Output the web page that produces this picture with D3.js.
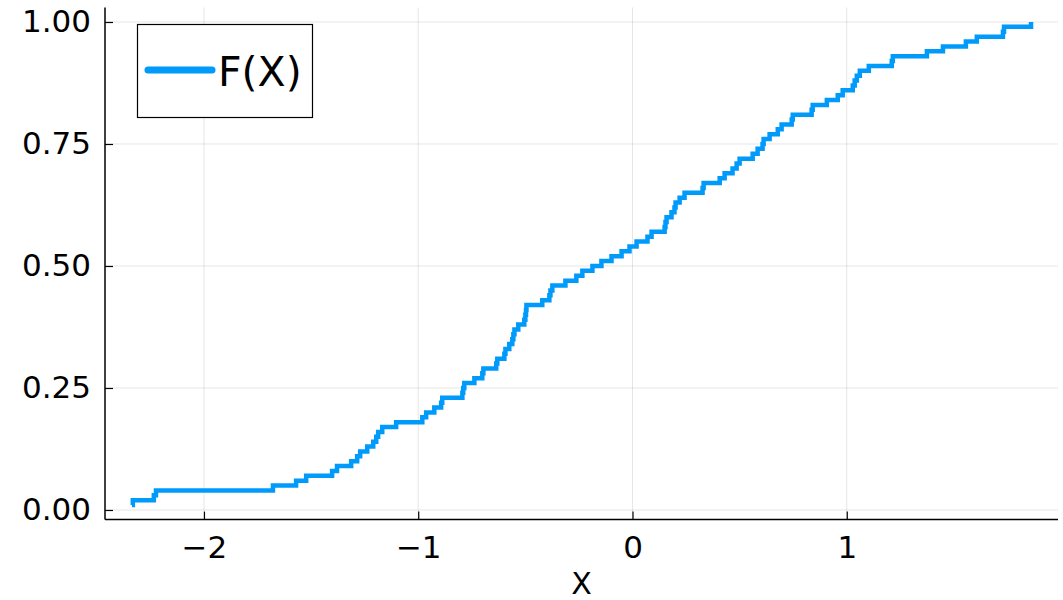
<!DOCTYPE html>
<html>
<head>
<meta charset="utf-8">
<script src="https://cdn.jsdelivr.net/npm/d3@7"></script>
<style>
  html, body { margin: 0; padding: 0; background: #fff; }
  svg { display: block; font-family: "DejaVu Sans", sans-serif; }
</style>
</head>
<body>
<svg id="chart" width="1063" height="600"></svg>
<script>
// Sorted sample values; the empirical CDF steps up by 1/n at each one.
const samples = [
  -2.336, -2.332, -2.234, -2.224, -1.678, -1.570, -1.523, -1.402, -1.379, -1.313,
  -1.285, -1.271, -1.238, -1.210, -1.196, -1.187, -1.168, -1.103, -0.981, -0.963,
  -0.925, -0.893, -0.888, -0.794, -0.790, -0.785, -0.738, -0.701, -0.696, -0.636,
  -0.631, -0.598, -0.593, -0.575, -0.561, -0.556, -0.551, -0.533, -0.505, -0.500,
  -0.497, -0.495, -0.421, -0.388, -0.383, -0.374, -0.313, -0.262, -0.234, -0.187,
  -0.145, -0.098, -0.051, -0.014, 0.019, 0.070, 0.089, 0.150, 0.154, 0.159,
  0.182, 0.196, 0.201, 0.220, 0.243, 0.327, 0.332, 0.407, 0.430, 0.467,
  0.486, 0.500, 0.561, 0.584, 0.607, 0.612, 0.640, 0.678, 0.696, 0.743,
  0.748, 0.836, 0.841, 0.907, 0.958, 0.981, 1.028, 1.037, 1.047, 1.061,
  1.103, 1.210, 1.215, 1.374, 1.449, 1.556, 1.607, 1.729, 1.734, 1.860
];
const xTicks = [-2, -1, 0, 1];
const yTicks = [0, 0.25, 0.5, 0.75, 1];
const seriesLabel = "F(X)";
const xLabel = "X";

const n = samples.length;
const points = samples.map((v, i) => ({ x: v, y: (i + 1) / n }));

const plot = { left: 105, right: 1058, top: 7.5, bottom: 519.6 };

// Axis limits: data extent widened by 3% on each side
function padded(ext) {
  const d = (ext[1] - ext[0]) * 0.03;
  return [ext[0] - d, ext[1] + d];
}
const x = d3.scaleLinear()
  .domain(padded(d3.extent(points, d => d.x)))
  .range([plot.left, plot.right]);
const y = d3.scaleLinear()
  .domain(padded(d3.extent(points, d => d.y)))
  .range([plot.bottom, plot.top]);

const svg = d3.select("#chart");
const color = "#009afa";
const fs = 31;

// Grid lines
const grid = svg.append("g").attr("stroke", "#000").attr("stroke-opacity", 0.1).attr("stroke-width", 1);
grid.selectAll(".gx").data(xTicks).join("line")
  .attr("x1", d => x(d)).attr("x2", d => x(d))
  .attr("y1", plot.top).attr("y2", plot.bottom);
grid.selectAll(".gy").data(yTicks).join("line")
  .attr("x1", plot.left).attr("x2", plot.right)
  .attr("y1", d => y(d)).attr("y2", d => y(d));

// Axes with inward ticks
const xAxis = d3.axisBottom(x).tickValues(xTicks).tickFormat(d3.format("d"))
  .tickSizeInner(-8).tickSizeOuter(0).tickPadding(16);
const yAxis = d3.axisLeft(y).tickValues(yTicks).tickFormat(d3.format(".2f"))
  .tickSizeInner(-8).tickSizeOuter(0).tickPadding(14);

const gx = svg.append("g").attr("transform", `translate(0,${plot.bottom})`).call(xAxis);
const gy = svg.append("g").attr("transform", `translate(${plot.left},0)`).call(yAxis);
[gx, gy].forEach(g => {
  g.select(".domain").attr("stroke", "#000").attr("stroke-width", 1.5);
  g.selectAll(".tick line").attr("stroke", "#000").attr("stroke-width", 1.2);
  g.selectAll(".tick text").attr("fill", "#000")
    .style("font-family", "'DejaVu Sans', sans-serif").style("font-size", fs + "px");
});
gx.selectAll(".tick text").attr("dy", "0.71em");
gx.select(".domain").attr("d", `M${plot.left},0H${plot.right}`);
gy.select(".domain").attr("d", `M0,${plot.bottom}V${plot.top}`);

// Axis label
svg.append("text")
  .attr("x", (plot.left + plot.right) / 2)
  .attr("y", 594)
  .attr("text-anchor", "middle")
  .style("font-size", "30px")
  .text(xLabel);

// ECDF curve
const line = d3.line().x(d => x(d.x)).y(d => y(d.y)).curve(d3.curveStepAfter);
svg.append("path")
  .datum(points)
  .attr("fill", "none")
  .attr("stroke", color)
  .attr("stroke-width", 4.5)
  .attr("stroke-linejoin", "miter")
  .attr("d", line);

// Legend
const lg = svg.append("g");
lg.append("rect")
  .attr("x", 137.5).attr("y", 24.5).attr("width", 175).attr("height", 93)
  .attr("fill", "#fff").attr("stroke", "#000").attr("stroke-width", 1.2);
lg.append("line")
  .attr("x1", 148).attr("x2", 212).attr("y1", 70).attr("y2", 70)
  .attr("stroke", color).attr("stroke-width", 7).attr("stroke-linecap", "round");
lg.append("text")
  .attr("x", 218).attr("y", 86)
  .style("font-size", "41px")
  .text(seriesLabel);
</script>
</body>
</html>
